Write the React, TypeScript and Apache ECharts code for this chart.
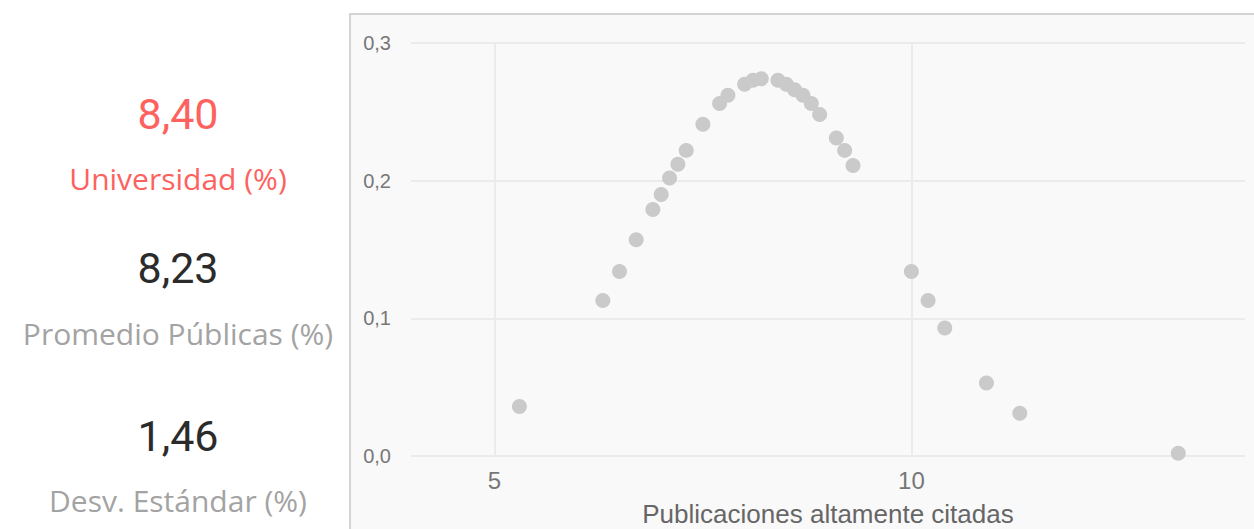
import React, { useEffect, useRef } from "react";
import * as echarts from "echarts";

const xValues = [5.3, 6.3, 6.5, 6.7, 6.9, 7.0, 7.1, 7.2, 7.3, 7.5, 7.7, 7.8, 8.0, 8.1, 8.2, 8.4, 8.5, 8.6, 8.7, 8.8, 8.9, 9.1, 9.2, 9.3, 10.0, 10.2, 10.4, 10.9, 11.3, 13.2];
const yValues = [0.036, 0.113, 0.134, 0.157, 0.179, 0.190, 0.202, 0.212, 0.222, 0.241, 0.256, 0.262, 0.270, 0.273, 0.274, 0.273, 0.270, 0.266, 0.262, 0.256, 0.248, 0.231, 0.222, 0.211, 0.134, 0.113, 0.093, 0.053, 0.031, 0.002];
const xTicks = [5, 10];
const yTicks = [0, 0.1, 0.2, 0.3];

const cardValues = ["8,40", "8,23", "1,46"];
const cardLabels = ["Universidad (%)", "Promedio Públicas (%)", "Desv. Estándar (%)"];

export default function App() {
  const ref = useRef<HTMLDivElement>(null);
  useEffect(() => {
    if (!ref.current) return;
    const chart = echarts.init(ref.current, null, { renderer: "svg" });
    const data = xValues.map((x, i) => [x, yValues[i]]);
    const valueY = [114, 268, 436];
    const labelY = [178, 333, 500];
    const valueColors = ["#fd625e", "#2b2b2b", "#2b2b2b"];
    const labelColors = ["#fd625e", "#a3a3a3", "#a3a3a3"];
    const graphics: any[] = [
      {
        type: "rect",
        z: -10,
        shape: { x: 350, y: 14, width: 920, height: 530 },
        style: { fill: "#faf9fa", stroke: "#d4d4d4", lineWidth: 2 },
        silent: true,
      },
    ];
    cardValues.forEach((v, i) => {
      graphics.push({
        type: "text",
        x: 178,
        y: valueY[i],
        style: {
          text: v,
          fill: valueColors[i],
          font: "43px Roboto",
          textAlign: "center",
          textVerticalAlign: "middle",
        },
      });
      graphics.push({
        type: "text",
        x: 178,
        y: labelY[i],
        style: {
          text: cardLabels[i],
          fill: labelColors[i],
          font: "30px 'Open Sans'",
          textAlign: "center",
          textVerticalAlign: "middle",
        },
      });
    });
    chart.setOption({
      animation: false,
      backgroundColor: "#ffffff",
      graphic: graphics,
      grid: { left: 411, right: 9, top: 43, bottom: 73, outerBoundsMode: "none", containLabel: false },
      xAxis: {
        type: "value",
        min: 4,
        max: 14,
        name: "Publicaciones altamente citadas",
        nameLocation: "middle",
        nameGap: 45,
        nameTextStyle: { fontSize: 26, color: "#666666", fontFamily: "Liberation Sans" },
        axisLine: { show: false },
        axisTick: { show: false, customValues: xTicks },
        axisLabel: {
          customValues: xTicks,
          fontSize: 24,
          color: "#777777",
          fontFamily: "Liberation Sans",
          margin: 12,
        },
        splitLine: { show: true, lineStyle: { color: "#ebebeb", width: 2 } },
      },
      yAxis: {
        type: "value",
        min: 0,
        max: 0.3,
        interval: 0.1,
        axisLine: { show: false },
        axisTick: { show: false },
        axisLabel: {
          fontSize: 20,
          color: "#777777",
          fontFamily: "Liberation Sans",
          margin: 20,
          formatter: (v: number) => v.toFixed(1).replace(".", ","),
        },
        splitLine: { show: true, lineStyle: { color: "#ebebeb", width: 2 } },
      },
      series: [
        {
          type: "scatter",
          data,
          symbolSize: 15,
          itemStyle: { color: "#cacaca", opacity: 1 },
        },
      ],
    });
    return () => chart.dispose();
  }, []);
  return (
    <div
      ref={ref}
      style={{ position: "fixed", left: 0, top: 0, width: 1254, height: 529 }}
    />
  );
}
